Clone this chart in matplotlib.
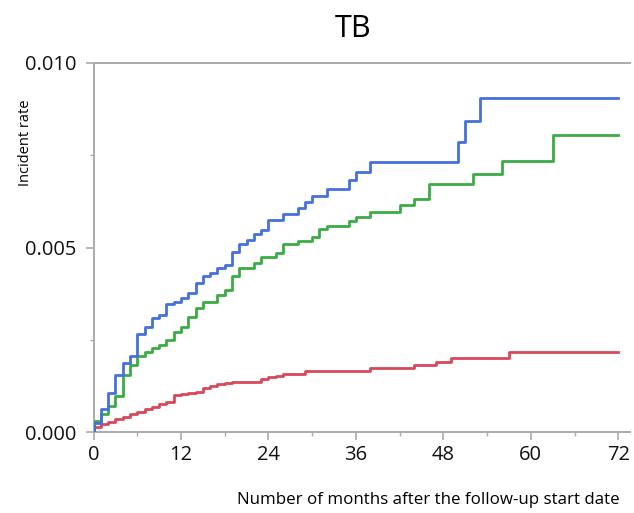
import matplotlib
matplotlib.use("Agg")
from matplotlib import pyplot as plt
from matplotlib.ticker import MultipleLocator, FixedLocator

# step points (month, cumulative incident rate)
blue_months = [0, 0, 1, 2, 3, 4, 5, 6, 7, 8, 9, 10, 11, 12, 13, 14, 15, 16, 17, 18, 19,
               20, 21, 22, 23, 24, 26, 28, 29, 30, 32, 35, 36, 38, 50, 51, 53, 72]
blue_rate = [0.0, 0.00025, 0.00062, 0.00107, 0.00154, 0.00187, 0.00206, 0.00266, 0.00285,
             0.00310, 0.00317, 0.00347, 0.00353, 0.00363, 0.00378, 0.00405, 0.00423, 0.00432,
             0.00444, 0.00453, 0.00489, 0.00509, 0.00520, 0.00536, 0.00547, 0.00575, 0.00590,
             0.00606, 0.00624, 0.00640, 0.00658, 0.00683, 0.00705, 0.00733, 0.00785, 0.00843,
             0.00906, 0.00906]

green_months = [0, 0, 1, 2, 3, 4, 5, 6, 7, 8, 9, 10, 11, 12, 13, 14, 15, 17, 18, 19, 20,
                22, 23, 25, 26, 28, 30, 31, 32, 35, 36, 38, 42, 44, 46, 52, 56, 63, 72]
green_rate = [0.0, 0.00030, 0.00050, 0.00070, 0.00098, 0.00154, 0.00182, 0.00206, 0.00218,
              0.00228, 0.00236, 0.00249, 0.00272, 0.00285, 0.00312, 0.00335, 0.00353, 0.00371,
              0.00385, 0.00423, 0.00444, 0.00457, 0.00473, 0.00484, 0.00509, 0.00518, 0.00528,
              0.00549, 0.00558, 0.00572, 0.00583, 0.00597, 0.00614, 0.00631, 0.00671, 0.00698,
              0.00734, 0.00805, 0.00805]

red_months = [0, 0, 1, 2, 3, 4, 5, 6, 7, 8, 9, 10, 11, 12, 13, 14, 15, 16, 17, 18, 19,
              23, 24, 25, 26, 29, 38, 44, 47, 49, 57, 72]
red_rate = [0.0, 0.00014, 0.00022, 0.00028, 0.00035, 0.00041, 0.00049, 0.00055, 0.00062,
            0.00069, 0.00076, 0.00082, 0.00100, 0.00102, 0.00105, 0.00109, 0.00118, 0.00125,
            0.00129, 0.00132, 0.00136, 0.00143, 0.00148, 0.00152, 0.00157, 0.00166, 0.00174,
            0.00182, 0.00191, 0.00201, 0.00218, 0.00218]

x_ticks = [0, 12, 24, 36, 48, 60, 72]
y_ticks = [0.0, 0.005, 0.010]
y_tick_labels = ["0.000", "0.005", "0.010"]

plt.rcParams["font.family"] = ["Open Sans", "DejaVu Sans"]

fig = plt.figure(figsize=(6.34, 5.13), dpi=100)
ax = fig.add_axes([93.5 / 634, 1 - 432 / 513, 536.5 / 634, 369 / 513])

ax.step(red_months, red_rate, where="post", color="#d8485b", lw=2.0, zorder=3)
ax.step(green_months, green_rate, where="post", color="#3bab45", lw=2.0, zorder=4)
ax.step(blue_months, blue_rate, where="post", color="#4570dc", lw=2.0, zorder=5)

ax.set_xlim(0, 73.6)
ax.set_ylim(0, 0.010)

ax.xaxis.set_major_locator(FixedLocator(x_ticks))
ax.xaxis.set_minor_locator(MultipleLocator(6))
ax.yaxis.set_major_locator(FixedLocator(y_ticks))
ax.yaxis.set_minor_locator(MultipleLocator(0.0025))
ax.set_yticklabels(y_tick_labels)

axis_grey = "#aaaaaa"
for side in ["left", "bottom", "top"]:
    ax.spines[side].set_color(axis_grey)
    ax.spines[side].set_linewidth(1.4)
ax.spines["right"].set_visible(False)

ax.tick_params(which="major", length=6, width=1.2, color=axis_grey, labelsize=14.5,
               labelcolor="#111111")
ax.tick_params(which="minor", length=3, width=1.0, color=axis_grey)
ax.tick_params(axis="x", which="both", top=False, pad=3)
ax.tick_params(axis="y", which="major", pad=6)

fig.text(353 / 634, 1 - 29 / 513, "TB", ha="center", va="center", fontsize=22)
fig.text(26 / 634, 1 - 143 / 513, "Incident rate", rotation=90, ha="center", va="center",
         fontsize=10.5)
fig.text(620 / 634, 1 - 500 / 513, "Number of months after the follow-up start date",
         ha="right", va="center", fontsize=12.2)

fig.savefig("out.png", dpi=100)
